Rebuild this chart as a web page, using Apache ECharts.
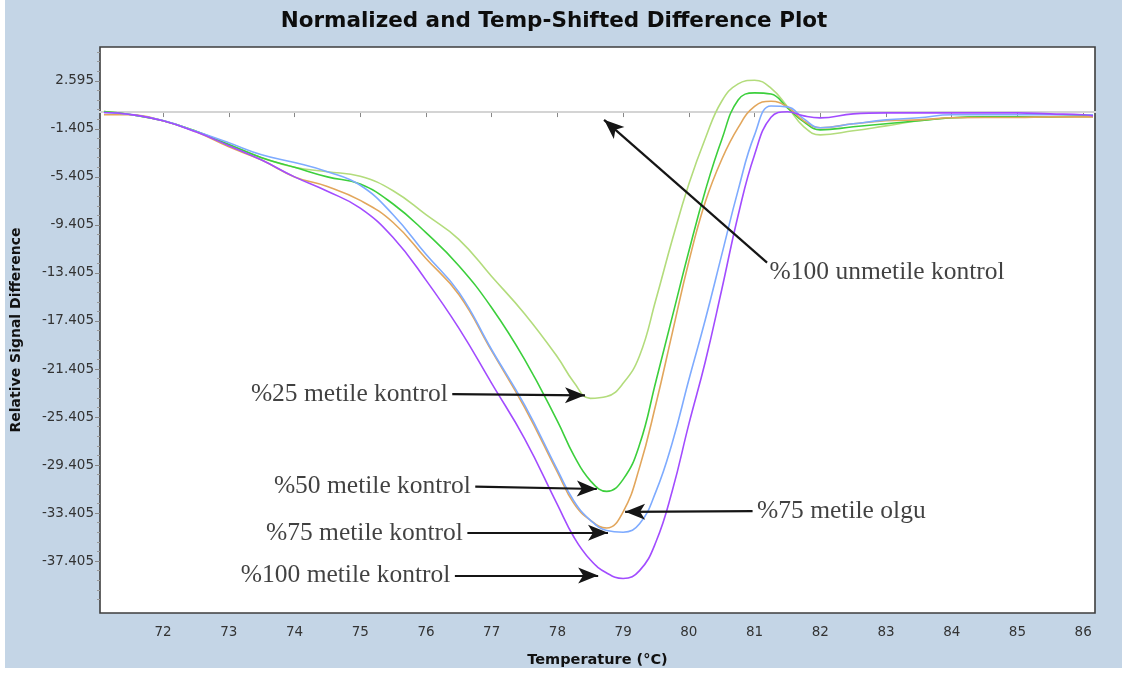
<!DOCTYPE html>
<html>
<head>
<meta charset="utf-8">
<script src="https://cdn.jsdelivr.net/npm/echarts@6/dist/echarts.min.js"></script>
<style>
  html, body { margin: 0; padding: 0; background: #ffffff; }
  #panel { position: absolute; left: 5px; top: 0; width: 1117px; height: 668px; background: #c4d5e6; }
  #chart { position: absolute; left: 0; top: 0; width: 1128px; height: 673px; }
</style>
</head>
<body>
<div id="panel"></div>
<div id="chart"></div>
<script>
// Temperature grid (°C) shared by all difference curves
const temperatures = [71.1, 71.5, 72, 72.5, 73, 73.5, 74, 74.5, 75, 75.5,
  76, 76.5, 77, 77.5, 78, 78.25, 78.5, 78.75, 79, 79.25,
  79.5, 79.75, 80, 80.25, 80.5, 80.75, 81, 81.25, 81.5, 81.75,
  82, 82.5, 83, 83.5, 84, 84.5, 85, 85.5, 86, 86.15];

// Relative signal difference for each sample
const metile25 = [0.05, -0.2, -0.73, -1.6, -2.7, -3.8, -4.6, -4.97, -5.35, -6.55,
  -8.55, -10.6, -13.7, -16.8, -20.4, -22.5, -23.85, -23.7, -22.6, -20.3,
  -15.6, -10.6, -6.0, -2.2, 0.9, 2.35, 2.65, 2.0, 0.45, -1.23,
  -1.9, -1.56, -1.15, -0.73, -0.48, -0.4, -0.4, -0.4, -0.4, -0.4];
const metile50 = [0.05, -0.2, -0.73, -1.6, -2.7, -3.8, -4.6, -5.4, -6.0, -7.66,
  -10.05, -12.8, -16.3, -20.6, -25.75, -28.6, -30.7, -31.6, -30.6, -27.7,
  -22.4, -17.0, -11.6, -6.55, -2.3, 1.0, 1.6, 1.5, 0.35, -0.81,
  -1.48, -1.23, -0.98, -0.73, -0.48, -0.4, -0.4, -0.4, -0.32, -0.32];
const metile75 = [-0.23, -0.23, -0.73, -1.65, -2.9, -4.0, -5.4, -6.2, -7.36, -9.2,
  -12.2, -15.2, -19.9, -24.6, -30.0, -32.6, -34.0, -34.65, -33.3, -29.6,
  -24.3, -18.35, -12.45, -7.5, -3.95, -1.3, 0.47, 0.9, 0.43, -0.73,
  -1.31, -0.98, -0.73, -0.65, -0.48, -0.45, -0.45, -0.4, -0.4, -0.4];
const olgu75 = [-0.04, -0.2, -0.7, -1.6, -2.56, -3.56, -4.2, -4.97, -6.1, -8.55,
  -11.85, -15.0, -19.8, -24.4, -29.8, -32.4, -34.0, -34.85, -35.0, -34.3,
  -31.6, -27.5, -22.3, -17.3, -11.9, -6.5, -1.9, 0.5, 0.43, -0.57,
  -1.31, -0.98, -0.65, -0.48, -0.23, -0.23, -0.23, -0.23, -0.23, -0.23];
const metile100 = [-0.04, -0.2, -0.73, -1.65, -2.8, -4.0, -5.4, -6.6, -8.0, -10.45,
  -14.0, -18.0, -22.6, -27.2, -32.7, -35.4, -37.3, -38.4, -38.85, -38.2,
  -35.8, -31.5, -26.0, -20.8, -14.8, -8.6, -3.55, -0.44, 0.02, -0.32,
  -0.48, -0.15, -0.07, -0.07, -0.07, -0.07, -0.07, -0.15, -0.23, -0.32];

// Unmethylated control is the reference, so its difference is flat zero
const unmetileTemps = [71.0, 86.2];
const unmetile100 = [0, 0];

// Axis ticks
const xTicks = [72, 73, 74, 75, 76, 77, 78, 79, 80, 81, 82, 83, 84, 85, 86];
const yTicks = [2.595, -1.405, -5.405, -9.405, -13.405, -17.405, -21.405,
  -25.405, -29.405, -33.405, -37.405];

// Annotation arrows: label, tail point, head point (data units)
const annotationLabels = ['%25 metile kontrol', '%50 metile kontrol', '%75 metile kontrol',
  '%100 metile kontrol', '%75 metile olgu', '%100 unmetile kontrol'];
const arrowTails = [[76.40, -23.5], [76.75, -31.2], [76.63, -35.05], [76.44, -38.6], [80.97, -33.24], [81.19, -12.54]];
const arrowHeads = [[78.42, -23.6], [78.60, -31.4], [78.77, -35.05], [78.62, -38.6], [79.03, -33.3], [78.71, -0.65]];

// Label placement relative to each arrow tail
const labelPlacement = [
  { position: 'left' }, { position: 'left' }, { position: 'left' }, { position: 'left' },
  { position: 'right' }, { position: 'right', offset: [-2, 10] }
];

const yRange = { min: -41.73, max: 5.42 };
const xRange = { min: 71.04, max: 86.18 };

// minor y ticks every 0.8 between the labelled ones
const yMinor = [];
for (let k = 0; k < 60; k++) {
  const v = +(-41.405 + k * 0.8).toFixed(3);
  if (v > yRange.max) break;
  if (k % 5 !== 0) yMinor.push(v);
}

const pair = (xs, ys) => xs.map((x, i) => [x, ys[i]]);

const curve = (name, values, color) => ({
  name, type: 'line', data: pair(temperatures, values),
  showSymbol: false, smooth: 0.45, silent: true, z: 3,
  lineStyle: { color, width: 1.6 }, itemStyle: { color },
  emphasis: { disabled: true }
});

const chart = echarts.init(document.getElementById('chart'), null, { renderer: 'canvas' });

const boldFont = "'DejaVu Sans', Verdana, sans-serif";

chart.setOption({
  animation: false,
  backgroundColor: 'transparent',
  graphic: [{
    type: 'text', x: 554, y: 21,
    style: {
      text: 'Normalized and Temp-Shifted Difference Plot',
      font: "bold 21.5px 'DejaVu Sans', Verdana, sans-serif",
      fill: '#0d0d0d', align: 'center', verticalAlign: 'middle'
    }
  }],
  grid: {
    left: 100, top: 47, width: 995, height: 567,
    show: true, backgroundColor: '#ffffff', borderColor: '#3e3e3e', borderWidth: 1.6
  },
  xAxis: {
    type: 'value', min: xRange.min, max: xRange.max,
    name: 'Temperature (°C)', nameLocation: 'middle', nameGap: 40,
    nameTextStyle: { fontFamily: boldFont, fontWeight: 'bold', fontSize: 14.5, color: '#111' },
    axisLine: { show: false },
    splitLine: { show: false },
    axisTick: { show: true, customValues: xTicks, length: 5, lineStyle: { color: '#888', width: 1 } },
    axisLabel: {
      customValues: xTicks, margin: 12,
      fontFamily: "'DejaVu Sans', sans-serif", fontSize: 13.5, color: '#333'
    }
  },
  yAxis: [{
    type: 'value', min: yRange.min, max: yRange.max,
    name: 'Relative Signal Difference', nameLocation: 'middle', nameGap: 77, nameRotate: 90,
    nameTextStyle: { fontFamily: boldFont, fontWeight: 'bold', fontSize: 14, color: '#111' },
    axisLine: { show: false },
    splitLine: { show: false },
    axisTick: { show: true, customValues: yTicks, length: 5, lineStyle: { color: '#888', width: 1 } },
    axisLabel: {
      customValues: yTicks, margin: 6,
      formatter: v => v.toFixed(3),
      fontFamily: "'DejaVu Sans', sans-serif", fontSize: 13.5, color: '#333'
    }
  }, {
    type: 'value', min: yRange.min, max: yRange.max, position: 'left',
    axisLine: { show: false }, splitLine: { show: false },
    axisTick: { show: true, customValues: yMinor, length: 3, lineStyle: { color: '#999', width: 1 } },
    axisLabel: { show: false }
  }],
  series: [
    {
      name: '%100 unmetile kontrol', type: 'line',
      data: pair(unmetileTemps, unmetile100),
      showSymbol: false, silent: true, z: 2,
      lineStyle: { color: '#d4d4d4', width: 2 },
      emphasis: { disabled: true },
      markLine: {
        silent: true, z: 6,
        symbol: ['none', 'arrow'],
        symbolSize: [12, 20],
        label: { show: false },
        emphasis: { disabled: true },
        lineStyle: { color: '#151515', width: 2.2, type: 'solid' },
        data: arrowTails.map((t, i) => [{ coord: t }, { coord: arrowHeads[i] }])
      }
    },
    curve('%25 metile kontrol', metile25, '#b3dc7c'),
    curve('%50 metile kontrol', metile50, '#3ccf3c'),
    curve('%75 metile kontrol', metile75, '#e2a65c'),
    curve('%75 metile olgu', olgu75, '#7eabff'),
    curve('%100 metile kontrol', metile100, '#a24cff'),
    {
      name: 'annotations', type: 'scatter', silent: true, z: 7,
      symbolSize: 1, itemStyle: { color: 'rgba(0,0,0,0)' },
      label: {
        show: true, formatter: '{b}', distance: 4,
        fontFamily: "'Liberation Serif', 'Times New Roman', serif", fontSize: 25.5, color: '#111'
      },
      data: annotationLabels.map((name, i) => ({
        name, value: arrowTails[i], label: labelPlacement[i]
      }))
    }
  ]
});
</script>
</body>
</html>
